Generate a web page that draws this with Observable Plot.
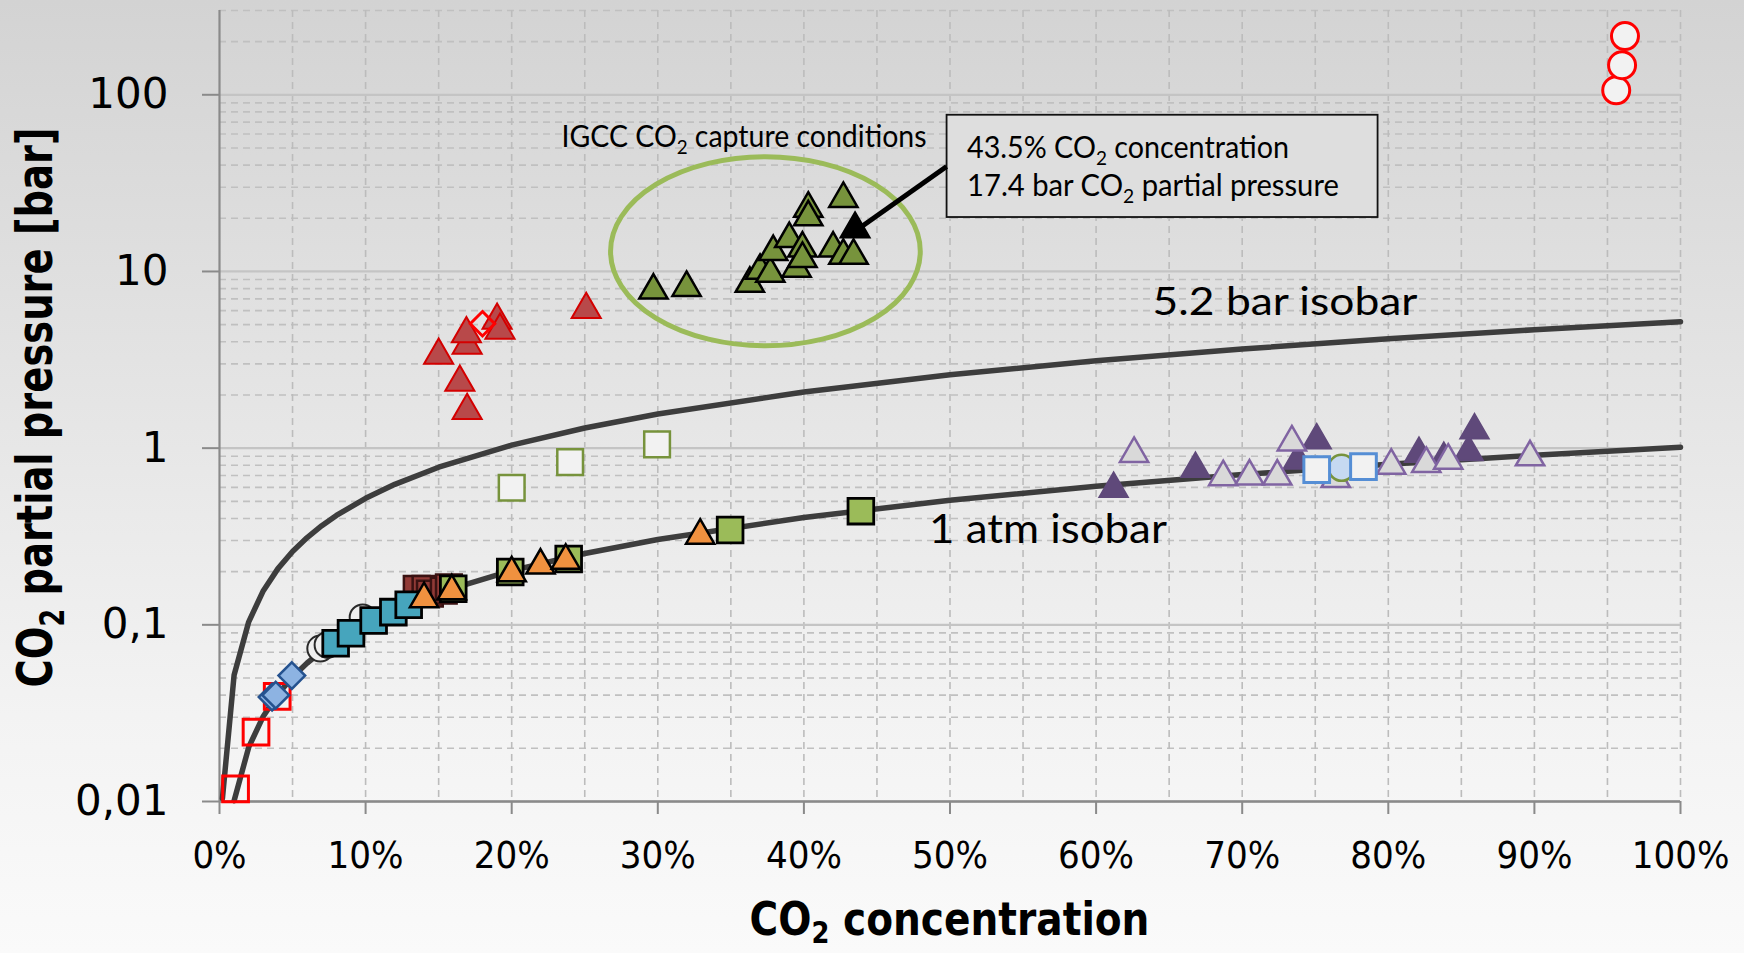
<!DOCTYPE html>
<html><head><meta charset="utf-8">
<script src="https://cdn.jsdelivr.net/npm/d3@7"></script>
<script src="https://cdn.jsdelivr.net/npm/@observablehq/plot@0.6"></script>
<style>
html,body{margin:0;padding:0;}
body{width:1744px;height:953px;overflow:hidden;background:linear-gradient(to bottom,#d3d3d3 0%,#e4e4e4 40%,#f3f3f3 75%,#fafafa 100%);}
#chart svg{display:block;}
</style></head><body><div id="chart"></div>
<script>
// ---- axes ----
const xTicks = [0, 10, 20, 30, 40, 50, 60, 70, 80, 90, 100];
const xTickLabels = ["0%", "10%", "20%", "30%", "40%", "50%", "60%", "70%", "80%", "90%", "100%"];
const yTicks = [0.01, 0.1, 1, 10, 100];
const yTickLabels = ["0,01", "0,1", "1", "10", "100"];

// ---- isobars (CO2 % , partial pressure bar) ----
const isobar52X = [0.2, 1, 2, 3, 4, 5, 6, 7, 8, 10, 12, 15, 20, 25, 30, 40, 50, 60, 70, 80, 90, 100];
const isobar52P = [0.0104, 0.052, 0.104, 0.156, 0.208, 0.26, 0.312, 0.364, 0.416, 0.52, 0.624, 0.78, 1.04, 1.3, 1.56, 2.08, 2.6, 3.12, 3.64, 4.16, 4.68, 5.2];
const isobar1X = [1, 2, 3, 4, 5, 6, 7, 8, 10, 12, 15, 20, 25, 30, 40, 50, 60, 70, 80, 90, 100];
const isobar1P = [0.0101, 0.0203, 0.0304, 0.0405, 0.0507, 0.0608, 0.0709, 0.081, 0.1013, 0.1216, 0.152, 0.2026, 0.2533, 0.304, 0.405, 0.507, 0.608, 0.709, 0.81, 0.912, 1.013];

// ---- data series [CO2 %, pCO2 bar] ----
const redOpenSquares = [[1.1, 0.0118], [2.5, 0.0247], [3.95, 0.0394]];
const blueDiamonds = [[3.6, 0.039], [3.85, 0.040], [4.95, 0.0516]];
const openCircles = [[6.9, 0.0734], [7.4, 0.077], [9.8, 0.110]];
const darkRedSquares = [[13.5, 0.160], [14.1, 0.160], [14.4, 0.150], [15.35, 0.156], [15.7, 0.163]];
const tealSquares = [[7.95, 0.0787], [9.0, 0.0896], [10.55, 0.1057], [11.9, 0.118], [12.95, 0.130]];
const greenSquares = [[16.0, 0.160], [19.9, 0.199], [23.9, 0.236], [34.95, 0.344], [43.9, 0.44]];
const orangeTriangles = [[14.0, 0.140], [15.9, 0.155], [20.0, 0.196], [21.97, 0.217], [23.7, 0.231], [32.9, 0.32]];
const greenOpenSquares = [[20.0, 0.597], [24.0, 0.834], [29.95, 1.05]];
const redTriangles = [[15.0, 3.35], [16.45, 2.36], [16.95, 1.63], [16.95, 3.82], [16.9, 4.44], [19.0, 5.29], [19.2, 4.64], [25.1, 6.08]];
const redOpenDiamonds = [[18.0, 5.06]];
const greenTriangles = [[29.7, 7.82], [31.97, 8.09], [36.3, 8.53], [37.0, 10.1], [37.7, 9.72], [37.9, 12.9], [39.0, 15.3], [39.5, 10.4], [39.9, 13.5], [39.9, 11.8], [40.3, 22.7], [40.3, 20.3], [42.0, 13.5], [42.7, 25.8], [42.7, 12.3], [43.4, 12.3]];
const highlightTriangle = [[43.5, 17.4]];
const purpleTriangles = [[61.2, 0.589], [66.8, 0.764], [73.8, 0.851], [75.1, 1.106], [82.1, 0.93], [83.8, 0.871], [85.5, 0.949], [85.9, 1.26]];
const purpleOpenTriangles = [[62.6, 0.929], [68.7, 0.686], [70.5, 0.692], [72.4, 0.692], [73.4, 1.08], [76.4, 0.67], [80.2, 0.798], [82.6, 0.816], [84.1, 0.851], [89.7, 0.889]];
const greenOutlineCircles = [[76.8, 0.774]];
const blueOpenSquares = [[75.1, 0.755], [78.3, 0.787]];
const redOpenCircles = [[95.6, 106], [96.0, 147], [96.2, 215]];

// ---- annotations ----
const ellipseX = [26.8, 48.0];
const ellipseY = [3.77, 44.3];
const boxX = [49.8, 79.3];
const boxY = [20.2, 76.6];
const arrowFrom = [49.8, 39.0];
const arrowTo = [43.8, 17.4];

const W = 1744, H = 953;
const yLabelMap = new Map(yTicks.map((t, i) => [t, yTickLabels[i]]));
const xLabelMap = new Map(xTicks.map((t, i) => [t, xTickLabels[i]]));
const yMajor = yTicks;
const yMinor = d3.scaleLog().domain([0.01, 300]).ticks().filter(t => !yMajor.some(m => Math.abs(m - t) / m < 1e-6));
const xGrid = d3.range(5, 101, 5);

const pts = (data, symbol, r, fill, stroke, sw) =>
  Plot.dot(data, {x: d => d[0], y: d => d[1], symbol, r, fill, stroke, strokeWidth: sw});

const toLine = (xs, ps) => xs.map((x, i) => [x, ps[i]]);

const plot = Plot.plot({
  width: W, height: H,
  marginLeft: 219, marginRight: 64, marginTop: 10, marginBottom: 152,
  style: {background: "transparent", overflow: "visible"},
  x: {domain: [0, 100]},
  y: {type: "log", domain: [0.01, 300]},
  marks: [
    Plot.ruleY(yMinor, {stroke: "#c0c0c0", strokeWidth: 1.6, strokeDasharray: "7,5"}),
    Plot.ruleX(xGrid, {stroke: "#bcbcbc", strokeWidth: 1.6, strokeDasharray: "7,5"}),
    Plot.ruleY(yMajor, {stroke: "#c4c4c4", strokeWidth: 2.2}),
    Plot.ruleX([0], {stroke: "#8a8a8a", strokeWidth: 2.2}),
    Plot.ruleY([0.01], {stroke: "#8a8a8a", strokeWidth: 2.6}),
    Plot.axisY({ticks: yTicks, tickFormat: d => yLabelMap.get(d), tickSize: 17, tickPadding: 34,
      stroke: "#8a8a8a", strokeWidth: 2, fill: "#000", fontSize: 42, fontFamily: "DejaVu Sans", label: null}),
    Plot.axisX({ticks: xTicks, tickFormat: d => xLabelMap.get(d), tickSize: 13, tickPadding: 27,
      stroke: "#8a8a8a", strokeWidth: 2, fill: "#000", fontSize: 38, fontFamily: "'Liberation Sans Narrow', 'DejaVu Sans Condensed', sans-serif", label: null}),
    Plot.line(toLine(isobar52X, isobar52P), {x: d => d[0], y: d => d[1], stroke: "#3d3d3d", strokeWidth: 5.5}),
    Plot.line(toLine(isobar1X, isobar1P), {x: d => d[0], y: d => d[1], stroke: "#3d3d3d", strokeWidth: 5.5}),
    pts(redOpenSquares, "square", 14.5, "none", "#ff0000", 3),
    pts(blueDiamonds, "diamond2", 12, "#8db3e2", "#25528f", 2.5),
    pts(openCircles, "circle", 13, "#efefef", "#2a2a2a", 2),
    pts(darkRedSquares, "square", 14.5, "#913a36", "#3a1212", 2.5),
    pts(tealSquares, "square", 14.5, "#46a5bd", "#000", 2.8),
    pts(greenSquares, "square", 14.5, "#9bbb59", "#000", 2.8),
    pts(orangeTriangles, "triangle", 10.5, "#f0913f", "#000", 2.5),
    pts(greenOpenSquares, "square", 14.5, "#f2f2f2", "#77933c", 2.5),
    pts(redTriangles, "triangle", 10.8, "#b8494a", "#d40000", 2),
    pts(redOpenDiamonds, "diamond2", 11, "none", "#ff0000", 3),
    pts(greenTriangles, "triangle", 10.5, "#77933c", "#000", 2.5),
    pts(highlightTriangle, "triangle", 10.5, "#000", "#000", 2.5),
    pts(purpleTriangles, "triangle", 10.5, "#5f497a", "#5f497a", 2),
    pts(purpleOpenTriangles, "triangle", 10.5, "#d9d9d9", "#8064a2", 2.5),
    pts(greenOutlineCircles, "circle", 13, "#c6d9f1", "#77933c", 2.5),
    pts(blueOpenSquares, "square", 14.5, "#f2f2f2", "#558ed5", 3),
    pts(redOpenCircles, "circle", 13.5, "#f2f2f2", "#ff0000", 3)
  ]
});
document.getElementById("chart").append(plot);

const X = v => plot.scale("x").apply(v);
const Y = v => plot.scale("y").apply(v);
const svg = d3.select(plot);

// ellipse
svg.append("ellipse")
  .attr("cx", (X(ellipseX[0]) + X(ellipseX[1])) / 2)
  .attr("cy", (Y(ellipseY[0]) + Y(ellipseY[1])) / 2)
  .attr("rx", Math.abs(X(ellipseX[1]) - X(ellipseX[0])) / 2)
  .attr("ry", Math.abs(Y(ellipseY[0]) - Y(ellipseY[1])) / 2)
  .attr("fill", "none").attr("stroke", "#9bbb59").attr("stroke-width", 5);

// annotation box
svg.append("rect")
  .attr("x", X(boxX[0])).attr("y", Y(boxY[1]))
  .attr("width", X(boxX[1]) - X(boxX[0])).attr("height", Y(boxY[0]) - Y(boxY[1]))
  .attr("fill", "#dedede").attr("stroke", "#111").attr("stroke-width", 1.8);

// arrow
svg.append("line")
  .attr("x1", X(arrowFrom[0])).attr("y1", Y(arrowFrom[1]))
  .attr("x2", X(arrowTo[0])).attr("y2", Y(arrowTo[1]))
  .attr("stroke", "#000").attr("stroke-width", 5);

// text helper: parts = [[string, isSubscript], ...]
function addLabel(parts, {x, y, anchor = "start", size, family, weight = "normal", width, rotate = 0, sub = 0.24}) {
  const g = svg.append("g");
  const t = g.append("text").attr("font-family", family).attr("font-size", size)
    .attr("font-weight", weight).attr("fill", "#000").attr("text-anchor", anchor);
  let shifted = false;
  const sh = size * sub;
  parts.forEach(([s, isSub]) => {
    const ts = t.append("tspan").text(s);
    if (isSub && !shifted) { ts.attr("dy", sh).attr("font-size", size * 0.66); shifted = true; }
    else if (!isSub && shifted) { ts.attr("dy", -sh); shifted = false; }
    else if (isSub) ts.attr("font-size", size * 0.66);
  });
  const w = t.node().getBBox().width;
  const s = width ? width / w : 1;
  g.attr("transform", `translate(${x},${y})` + (rotate ? ` rotate(${rotate})` : "") + ` scale(${s},1)`);
}

const calib = "Lato, 'Open Sans', sans-serif";
const narrow = "'Liberation Sans Narrow', 'DejaVu Sans Condensed', sans-serif";

addLabel([["IGCC CO"], ["2", true], [" capture conditions"]], {x: X(23.45), y: Y(50.5), size: 30, family: calib, width: 365});
addLabel([["43.5% CO"], ["2", true], [" concentration"]], {x: X(51.2), y: Y(43.6), size: 30, family: calib, width: 322});
addLabel([["17.4 bar CO"], ["2", true], [" partial pressure"]], {x: X(51.2), y: Y(26.6), size: 30, family: calib, width: 372});
addLabel([["5.2 bar isobar"]], {x: X(63.9), y: Y(5.64), size: 39, family: calib, width: 265});
addLabel([["1 atm isobar"]], {x: X(48.6), y: Y(0.288), size: 41, family: calib, width: 238});

// axis titles
addLabel([["CO"], ["2", true], [" concentration"]], {x: (X(0) + X(100)) / 2, y: 935, anchor: "middle", size: 46, family: narrow, weight: "bold", width: 400, sub: 0.18});
addLabel([["CO"], ["2", true], [" partial pressure [bar]"]], {x: 52, y: (Y(0.01) + Y(300)) / 2 + 2, anchor: "middle", size: 50, family: narrow, weight: "bold", width: 560, rotate: -90});
</script></body></html>
